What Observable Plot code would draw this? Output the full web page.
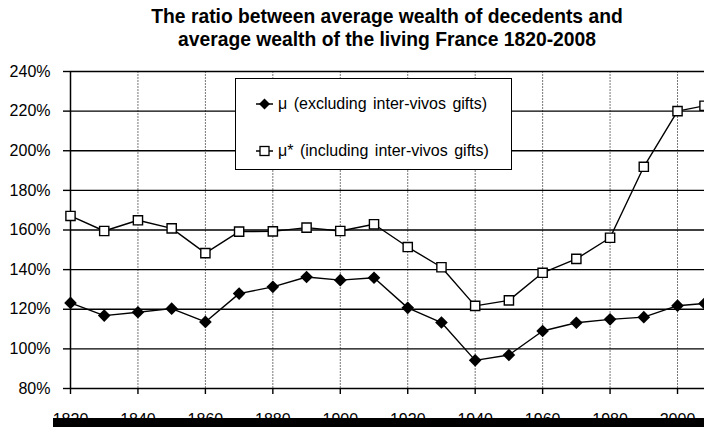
<!DOCTYPE html>
<html><head><meta charset="utf-8">
<script src="https://cdn.jsdelivr.net/npm/d3@7"></script>
<script src="https://cdn.jsdelivr.net/npm/@observablehq/plot@0.6"></script>
<style>
body{margin:0;background:#fff;font-family:"Liberation Sans",Arial,sans-serif;}
#wrap{position:relative;width:704px;height:427px;overflow:hidden;background:#fff;}
#title{height:60px;box-sizing:border-box;padding-top:5px;padding-left:70px;text-align:center;font-weight:bold;font-size:19.3px;line-height:23px;color:#000;}
#chart svg{display:block;}
#legend{position:absolute;left:235px;top:78px;width:275px;height:90px;border:1.5px solid #000;background:#fff;font-size:16px;color:#000;}
.row{position:absolute;left:18px;height:20px;display:flex;align-items:center;white-space:nowrap;word-spacing:2px;}
.row svg{margin-right:4px;}
#bar{position:absolute;left:53px;top:418px;width:651px;height:9px;background:#000;}
</style></head>
<body>
<div id="wrap">
  <div id="title">The ratio between average wealth of decedents and<br>average wealth of the living France 1820-2008</div>
  <div id="chart"></div>
  <div id="legend">
    <div class="row" style="top:15px"><svg width="20" height="14"><line x1="2" y1="7" x2="19" y2="7" stroke="#000" stroke-width="1.5"/><path d="M10.5,1.5 L16,7 L10.5,12.5 L5,7 Z" fill="#000"/></svg><span>μ (excluding inter-vivos gifts)</span></div>
    <div class="row" style="top:62px"><svg width="20" height="14"><line x1="2" y1="7" x2="19" y2="7" stroke="#000" stroke-width="1.5"/><rect x="6" y="2.5" width="9" height="9" fill="#fff" stroke="#000" stroke-width="1.3"/></svg><span>μ* (including inter-vivos gifts)</span></div>
  </div>
  <div id="bar"></div>
</div>
<script>
const years = [1820,1830,1840,1850,1860,1870,1880,1890,1900,1910,1920,1930,1940,1950,1960,1970,1980,1990,2000,2008];
const muExcl = [123.2,116.8,118.5,120.3,113.6,127.9,131.3,136.3,134.7,135.9,120.7,113.3,94.2,96.9,109.0,113.2,114.9,116.0,121.8,122.9];
const muIncl = [167.1,159.5,164.9,160.8,148.3,159.2,159.3,161.2,159.5,162.9,151.4,141.2,121.7,124.5,138.4,145.4,156.1,191.9,220.0,222.7];
const yTicks = [80,100,120,140,160,180,200,220,240];
const xTicks = [1820,1840,1860,1880,1900,1920,1940,1960,1980,2000];

const chart = Plot.plot({
  width: 704,
  height: 367,
  marginLeft: 70,
  marginRight: 0,
  marginTop: 11,
  marginBottom: 39,
  style: {fontFamily: "'Liberation Sans', Arial, sans-serif", fontSize: "16px", color: "#000", background: "#fff"},
  x: {domain: [1820, 2008]},
  y: {domain: [80, 240]},
  marks: [
    Plot.ruleX(xTicks.slice(1), {stroke: "#777", strokeWidth: 1, strokeDasharray: "2,1"}),
    Plot.ruleY(yTicks, {stroke: "#000", strokeWidth: 1.4}),
    Plot.ruleX([1820], {stroke: "#000", strokeWidth: 1.5}),
    Plot.axisY(yTicks, {tickSize: 7, tickPadding: 13, tickFormat: d => d + "%", stroke: "#000", strokeWidth: 1.4}),
    Plot.axisX(xTicks, {tickSize: 6, tickPadding: 19, tickFormat: d => String(d), stroke: "#000", strokeWidth: 1.4}),
    Plot.line(muIncl, {x: (d, i) => years[i], y: d => d, stroke: "#000", strokeWidth: 1.4}),
    Plot.line(muExcl, {x: (d, i) => years[i], y: d => d, stroke: "#000", strokeWidth: 1.4}),
    Plot.dot(muIncl, {x: (d, i) => years[i], y: d => d, symbol: "square", r: 5.2, fill: "#fff", stroke: "#000", strokeWidth: 1.4}),
    Plot.dot(muExcl, {x: (d, i) => years[i], y: d => d, symbol: "diamond2", r: 5.7, fill: "#000", stroke: "none"})
  ]
});
document.getElementById("chart").appendChild(chart);
</script>
</body></html>
